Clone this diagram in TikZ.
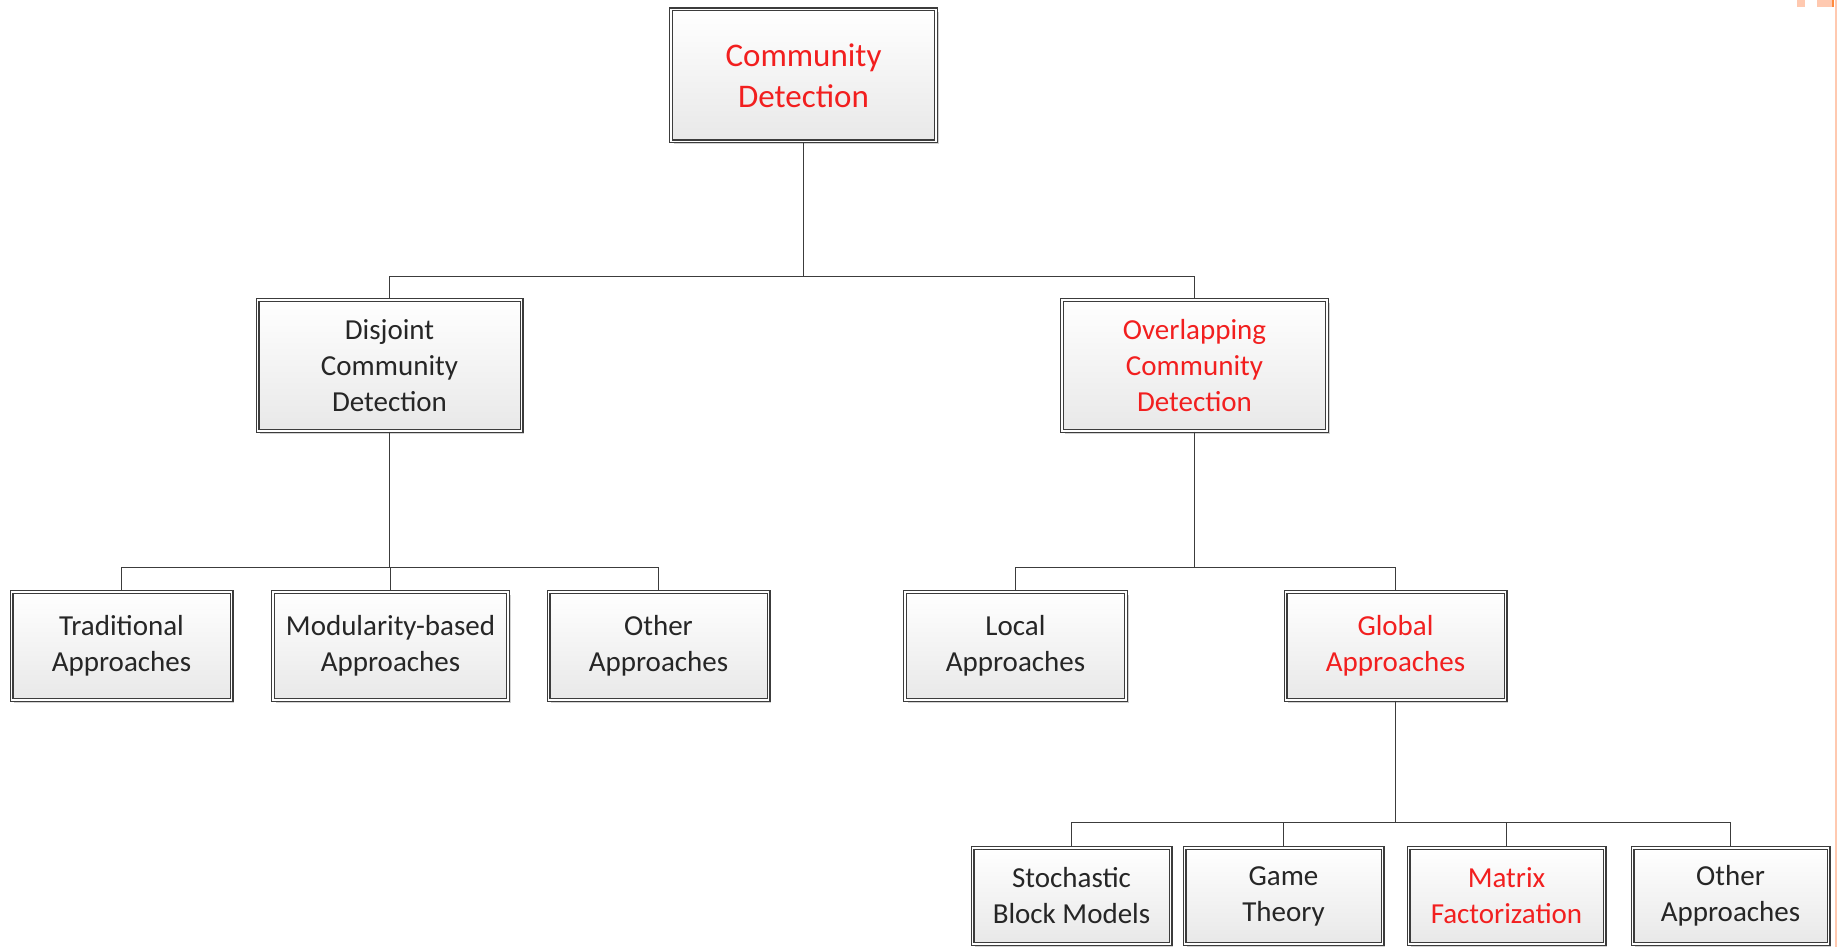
\documentclass[tikz,border=0pt]{standalone}
\usepackage{fontspec}
\setmainfont{Carlito}
\usetikzlibrary{shadows}
\definecolor{edge}{HTML}{3C3C3C}
\definecolor{txt}{HTML}{262626}
\definecolor{hot}{HTML}{F21F1F}
\definecolor{peach}{HTML}{FFC9B0}
\definecolor{peachdark}{HTML}{FF8A3D}
\tikzset{
  box/.style={draw=edge, line width=1.15pt, double=white, double distance=1.7pt,
    top color=white, bottom color=black!9, align=center, inner sep=0pt,
    text=txt, font=\fontsize{29}{36}\selectfont,
    drop shadow={shadow xshift=2.5pt, shadow yshift=-2.5pt, fill=black!22, opacity=0.8}},
  rootbox/.style={box, font=\fontsize{33}{41}\selectfont},
  hotbox/.style={text=hot},
  link/.style={draw=edge, line width=1.7pt},
}
\begin{document}
\begin{tikzpicture}[x=1pt,y=-1pt]
\useasboundingbox (0,0) rectangle (1837,947);
\fill[white] (0,0) rectangle (1837,947);

% top level
\node[rootbox, hotbox, minimum width=265, minimum height=132] (root) at (803.5,75.5) {Community\\Detection};

% second level
\node[box, minimum width=264, minimum height=131] (disj) at (389.5,365.5) {Disjoint\\Community\\Detection};
\node[box, hotbox, minimum width=265, minimum height=131] (ovl) at (1194.5,365.5) {Overlapping\\Community\\Detection};

% third level
\node[box, minimum width=220, minimum height=108] (trad) at (121.5,646) {Traditional\\Approaches};
\node[box, minimum width=235, minimum height=108] (modu) at (390.5,646) {Modularity-based\\Approaches};
\node[box, minimum width=220, minimum height=108] (oth1) at (658.5,646) {Other\\Approaches};
\node[box, minimum width=221, minimum height=108] (local) at (1015.5,646) {Local\\Approaches};
\node[box, hotbox, minimum width=220, minimum height=108] (glob) at (1395.5,646) {Global\\Approaches};

% fourth level
\node[box, minimum width=198, minimum height=96] (sbm) at (1071.5,896) {Stochastic\\Block Models};
\node[box, minimum width=198, minimum height=96] (game) at (1283.5,896) {Game\\Theory};
\node[box, hotbox, minimum width=196, minimum height=96] (mf) at (1506.5,896) {Matrix\\Factorization};
\node[box, minimum width=196, minimum height=96] (oth2) at (1730.5,896) {Other\\Approaches};

% branch levels
\coordinate (l1) at (0,276.5);
\coordinate (l2) at (0,567.5);
\coordinate (l3) at (0,822.5);

% connectors
\draw[link] (root.south) -- (root.south |- l1);
\draw[link] (root.south |- l1) -| (disj.north);
\draw[link] (root.south |- l1) -| (ovl.north);

\draw[link] (disj.south) -- (disj.south |- l2);
\draw[link] (disj.south |- l2) -| (trad.north);
\draw[link] (disj.south |- l2) -| (oth1.north);
\draw[link] (modu.north |- l2) -- (modu.north);

\draw[link] (ovl.south) -- (ovl.south |- l2);
\draw[link] (ovl.south |- l2) -| (local.north);
\draw[link] (ovl.south |- l2) -| (glob.north);

\draw[link] (glob.south) -- (glob.south |- l3);
\draw[link] (glob.south |- l3) -| (sbm.north);
\draw[link] (glob.south |- l3) -| (oth2.north);
\draw[link] (game.north |- l3) -- (game.north);
\draw[link] (mf.north |- l3) -- (mf.north);

% marks along the right edge
\fill[peach] (1797,0) rectangle (1805,7);
\fill[peach] (1817,0) rectangle (1832,7);
\fill[peachdark] (1832,0) rectangle (1834,7);
\fill[peach] (1835,0) rectangle (1837,947);
\end{tikzpicture}
\end{document}
